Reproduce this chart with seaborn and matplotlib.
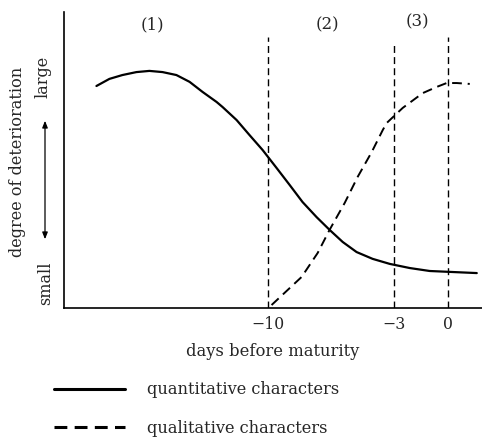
import matplotlib
matplotlib.use("Agg")
import matplotlib.pyplot as plt
import seaborn as sns
import pandas as pd
from matplotlib.lines import Line2D
from matplotlib.patches import FancyArrowPatch

# ---- data ----
quant_days = [-19.50, -18.78, -18.06, -17.28, -16.56, -15.83, -15.06, -14.33, -13.61, -12.83,
              -12.50, -11.72, -11.00, -10.28, -9.50, -8.78, -8.06, -7.28, -6.56, -5.83,
              -5.06, -4.17, -3.22, -2.11, -1.00, 0.11, 1.61]
quant_vals = [0.750, 0.774, 0.787, 0.797, 0.801, 0.797, 0.787, 0.764, 0.730, 0.696,
              0.679, 0.635, 0.584, 0.534, 0.473, 0.416, 0.358, 0.307, 0.264, 0.223,
              0.189, 0.166, 0.149, 0.135, 0.125, 0.122, 0.118]
qual_days = [-9.78, -9.06, -8.11, -7.22, -6.56, -5.72, -5.00, -4.22, -3.61, -3.39,
             -2.50, -1.39, -0.61, -0.06, 0.50, 1.22]
qual_vals = [0.010, 0.051, 0.105, 0.186, 0.264, 0.355, 0.443, 0.527, 0.601, 0.625,
             0.676, 0.726, 0.747, 0.760, 0.760, 0.757]
boundary_days = [-10, -3, 0]
boundary_tops = [0.916, 0.90, 0.916]
tick_labels = ["\u221210", "\u22123", "0"]
phase_labels = ["(1)", "(2)", "(3)"]
phase_days = [-16.4, -6.7, -1.7]
phase_heights = [0.955, 0.955, 0.965]
series_names = ["quantitative characters", "qualitative characters"]

sns.set_theme(style="white")
plt.rcParams["font.family"] = ["DejaVu Serif"]

df = pd.concat([
    pd.DataFrame({"day": quant_days, "val": quant_vals, "series": series_names[0]}),
    pd.DataFrame({"day": qual_days, "val": qual_vals, "series": series_names[1]}),
])

fig = plt.figure(figsize=(4.82, 4.37), dpi=100)
ax = fig.add_axes([64 / 482, 1 - 308 / 437, 1 - 64 / 482, (308 - 12) / 437])

sns.lineplot(data=df, x="day", y="val", style="series", hue="series",
             palette=["black", "black"], dashes=[(None, None), (5, 3)],
             sort=False, estimator=None, ax=ax, legend=False, linewidth=1.6)
ax.lines[1].set_linewidth(1.4)

ax.vlines(boundary_days, 0, boundary_tops, colors="black",
          linestyles=(0, (5, 3)), linewidth=1.0)

ax.set_xlim(-21.3, 1.9)
ax.set_ylim(0, 1)
ax.set_xticks(boundary_days)
ax.set_xticklabels(tick_labels, fontsize=11.3)
ax.set_yticks([])
ax.tick_params(axis="x", length=0, pad=6)
for s in ["top", "right"]:
    ax.spines[s].set_visible(False)
for s in ["left", "bottom"]:
    ax.spines[s].set_color("black")
    ax.spines[s].set_linewidth(1.2)

ax.set_xlabel("days before maturity", fontsize=11.8, labelpad=7)
ax.set_ylabel("")

for lab, x, y in zip(phase_labels, phase_days, phase_heights):
    ax.text(x, y, lab, ha="center", va="center", fontsize=12)

# y-axis annotations
fig.text(18 / 482, 1 - 162 / 437, "degree of deterioration", rotation=90,
         ha="center", va="center", fontsize=11.6)
fig.text(43 / 482, 1 - 77 / 437, "large", rotation=90, ha="center", va="center", fontsize=11.5)
fig.text(46 / 482, 1 - 283 / 437, "small", rotation=90, ha="center", va="center", fontsize=11.5)
fig.add_artist(FancyArrowPatch(
    (45 / 482, 1 - 242 / 437), (45 / 482, 1 - 118 / 437),
    transform=fig.transFigure, arrowstyle="<|-|>,head_length=4,head_width=1.6",
    color="black", linewidth=0.9))

# legend
handles = [Line2D([], [], color="black", linewidth=2.2),
           Line2D([], [], color="black", linewidth=2.2, linestyle=(0, (4.2, 2.4)))]
fig.legend(handles, series_names, loc="upper left",
           bbox_to_anchor=(47 / 482, 1 - 375 / 437), frameon=False,
           handlelength=4.4, handletextpad=1.35, labelspacing=1.3, fontsize=11.7,
           borderaxespad=0)

fig.savefig("out.png", dpi=100)
